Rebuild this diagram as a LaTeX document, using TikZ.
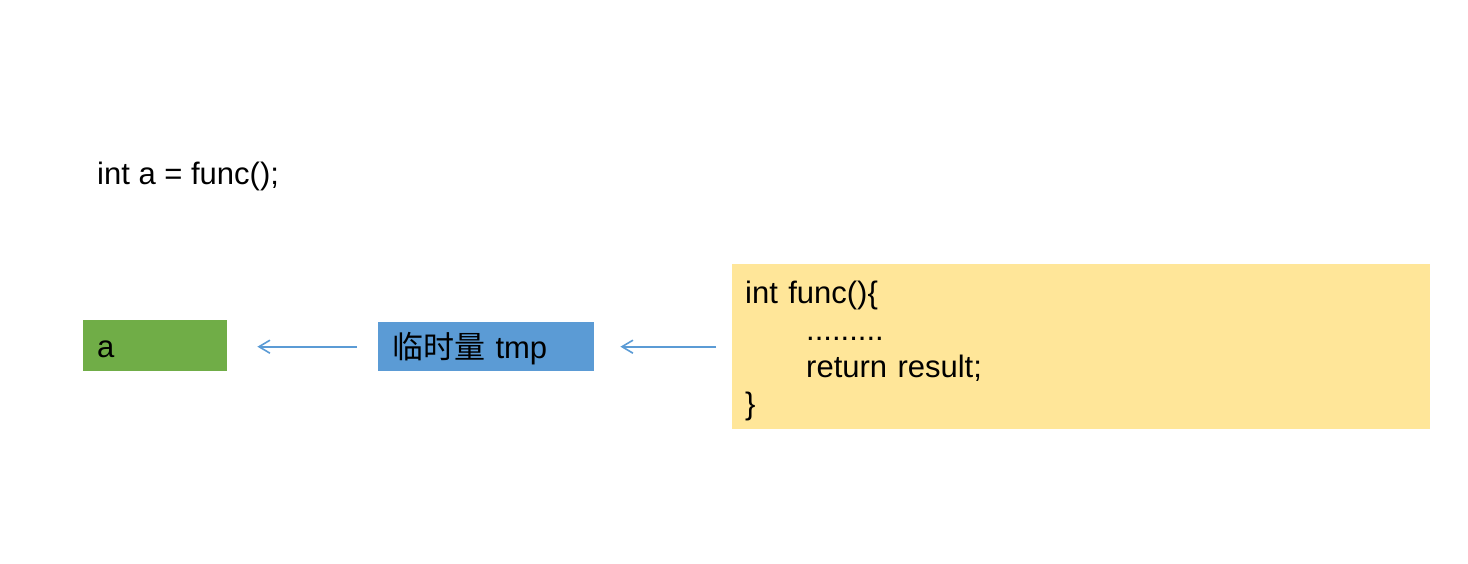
\documentclass[tikz,border=0pt]{standalone}
\usepackage{fontspec}
\setmainfont{Liberation Sans}
\newfontfamily\cjk{Noto Sans CJK SC}
\usetikzlibrary{arrows.meta}
\definecolor{cgreen}{HTML}{70AD47}
\definecolor{cblue}{HTML}{5B9BD5}
\definecolor{cyellow}{HTML}{FFE699}
\definecolor{carrow}{HTML}{5B9BD5}
\tikzset{
  box/.style={rectangle, inner xsep=14pt, inner ysep=0pt, align=left, anchor=north west,
    font=\fontsize{31}{37}\selectfont},
  arr/.style={draw=carrow, line width=1.6pt, -{Straight Barb[length=11pt,width=13pt,line width=1.6pt]}},
}
\begin{document}
\begin{tikzpicture}[x=1pt,y=-1pt]
\useasboundingbox (0,0) rectangle (1468,564);
\node[anchor=base west, inner sep=0pt, font=\fontsize{31}{37}\selectfont] (decl) at (97,185) {int a = func();};
\node[box, fill=cgreen, text width=116pt, minimum height=51pt, text height=23pt, text depth=0pt] (a) at (83,320) {a};
\node[box, fill=cblue, text width=188pt, minimum height=49pt, text height=23pt, text depth=0pt] (tmp) at (378,322) {{\cjk 临时量} tmp};
\node[box, fill=cyellow, inner xsep=13pt, text width=672pt, minimum height=165pt] (code) at (732,264)
  {\rule{0pt}{32pt}int func()\{\\ \hspace*{61pt}.........\\ \hspace*{61pt}return result;\\ \}};
\draw[arr, shorten <=21pt, shorten >=30pt] (tmp.west) -- (a.east |- tmp.west);
\draw[arr, shorten <=16pt, shorten >=26pt] (code.west) -- (tmp.east |- code.west);
\end{tikzpicture}
\end{document}
